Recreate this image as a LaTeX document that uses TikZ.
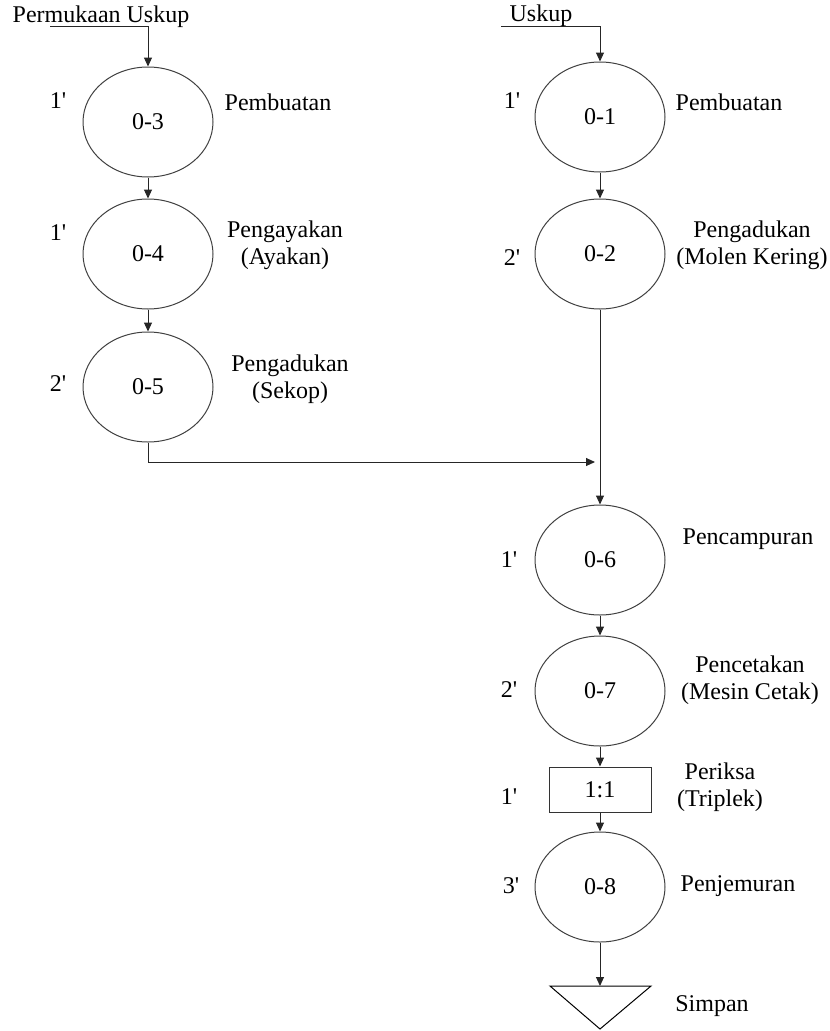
\documentclass[tikz,border=0pt]{standalone}
\usepackage{fontspec}
\setmainfont{Liberation Serif}[Ligatures=TeXOff]
\usetikzlibrary{shapes.geometric,arrows.meta}
\newcommand{\mn}[1]{#1'}
\begin{document}
\begin{tikzpicture}[x=1pt,y=-1pt,
  every node/.style={font=\fontsize{24}{27}\selectfont, inner sep=0pt, align=center},
  opnode/.style={ellipse, draw=black!75, line width=1pt, minimum width=130pt, minimum height=110pt},
  chk/.style={rectangle, draw=black!80, line width=1pt, minimum width=102pt, minimum height=45pt},
  flow/.style={draw=black!85, line width=1pt, -{Triangle[length=9pt,width=8pt]}},
  plain/.style={draw=black!85, line width=1pt}]
\useasboundingbox (0,0) rectangle (830,1031);
% left column
\node[opnode] (o3) at (148,122) {0-3};
\node[opnode] (o4) at (148,254) {0-4};
\node[opnode] (o5) at (148,387) {0-5};
% right column
\node[opnode] (o1) at (600,117) {0-1};
\node[opnode] (o2) at (600,254) {0-2};
\node[opnode] (o6) at (600,560) {0-6};
\node[opnode] (o7) at (600,691) {0-7};
\node[chk] (r1) at (600,789.5) {1:1};
\node[opnode] (o8) at (600,887) {0-8};
\coordinate (tri) at (600,986);
\draw[line width=1pt] (550,986) -- (651,986) -- (600,1029) -- cycle;
% inputs
\node (t1) at (101,17) {Permukaan Uskup};
\node (t2) at (541,16) {Uskup};
\coordinate (s1) at (50,26);
\coordinate (s2) at (501,26);
\coordinate (j) at (595,462);
% connectors
\draw[flow] (s1) -| (o3.north);
\draw[flow] (o3) -- (o4);
\draw[flow] (o4) -- (o5);
\draw[flow] (o5.south) |- (j);
\draw[flow] (s2) -| (o1.north);
\draw[flow] (o1) -- (o2);
\draw[flow] (o2) -- (o6);
\draw[flow] (o6) -- (o7);
\draw[flow] (o7) -- (r1);
\draw[flow] (r1) -- (o8);
\draw[flow] (o8) -- (tri);
% times
\node (m3) at (58,101) {\mn{1}};
\node (m4) at (58,233) {\mn{1}};
\node (m5) at (58,384) {\mn{2}};
\node (m1) at (512,101) {\mn{1}};
\node (m2) at (512,258) {\mn{2}};
\node (m6) at (509,560) {\mn{1}};
\node (m7) at (509,690) {\mn{2}};
\node (mr) at (509,797) {\mn{1}};
\node (m8) at (511,886) {\mn{3}};
% descriptions
\node (d3) at (278,102) {Pembuatan};
\node (d4) at (285,245) {Pengayakan\\(Ayakan)};
\node (d5) at (290,379) {Pengadukan\\(Sekop)};
\node (d1) at (729,102) {Pembuatan};
\node (d2) at (752,245) {Pengadukan\\(Molen Kering)};
\node (d6) at (748,539) {Pencampuran};
\node (d7) at (750,680) {Pencetakan\\(Mesin Cetak)};
\node (dr) at (720,787) {Periksa\\(Triplek)};
\node (d8) at (738,886) {Penjemuran};
\node (ds) at (712,1006) {Simpan};
\end{tikzpicture}
\end{document}
